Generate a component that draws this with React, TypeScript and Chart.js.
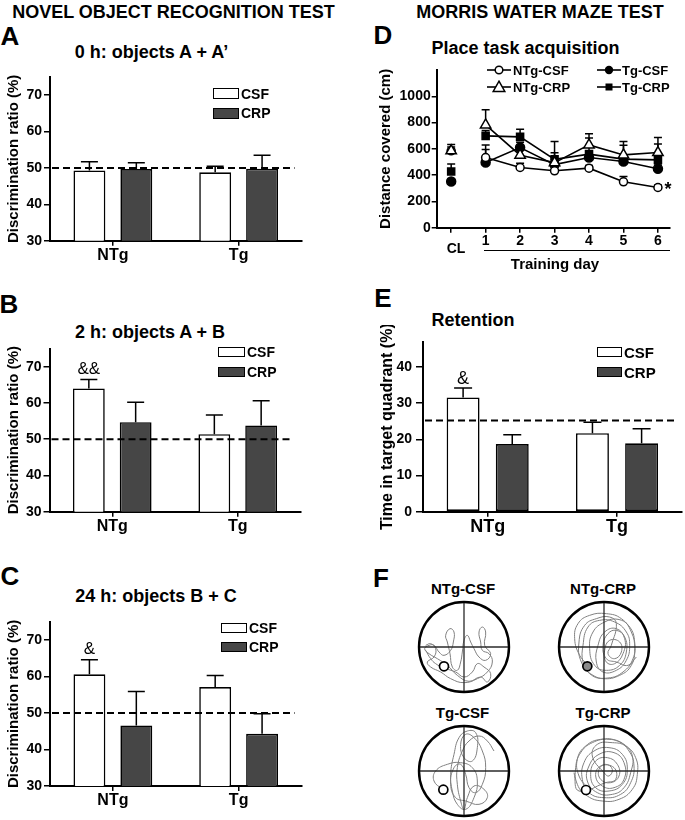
import React, { useEffect, useRef } from 'react';
import { Chart, registerables } from 'chart.js';

Chart.register(...registerables);

const FONT = "'Liberation Sans', Arial, Helvetica, sans-serif";
Chart.defaults.font.family = FONT;
Chart.defaults.color = '#000';

// ---------------- Novel object recognition (A, B, C) ----------------
const groups = ['NTg', 'Tg'];
const seriesNames = ['CSF', 'CRP'];
const norTicks = [30, 40, 50, 60, 70];
const norChance = 50;

const aCSF = [49.3, 48.8];
const aCSFSem = [2.4, 1.7];
const aCRP = [49.7, 49.8];
const aCRPSem = [1.7, 3.7];

const bCSF = [64.0, 51.4];
const bCSFSem = [2.5, 5.3];
const bCRP = [54.7, 53.8];
const bCRPSem = [5.5, 6.8];
const bMarks = ['&&', ''];

const cCSF = [60.6, 57.1];
const cCSFSem = [4.0, 3.2];
const cCRP = [46.6, 44.3];
const cCRPSem = [9.3, 5.5];
const cMarks = ['&', ''];

// ---------------- Morris water maze (D, E) ----------------
const dayLabels = ['CL', '1', '2', '3', '4', '5', '6'];
const dayIndex = [0, 1, 2, 3, 4, 5, 6];
const distTicks = [0, 200, 400, 600, 800, 1000];

const ntgCsfDist = [585, 534, 458, 433, 453, 349, 306];
const ntgCsfSem = [30, 96, 32, 25, 20, 40, 19];
const ntgCsfMarks = ['', '', '', '', '', '', '*'];
const ntgCrpDist = [585, 782, 552, 495, 630, 554, 572];
const ntgCrpSem = [48, 116, 48, 160, 84, 101, 114];
const tgCsfDist = [351, 496, 610, 480, 534, 504, 448];
const tgCsfSem = [20, 99, 40, 40, 40, 30, 30];
const tgCrpDist = [427, 699, 691, 520, 560, 522, 516];
const tgCrpSem = [57, 41, 58, 50, 123, 106, 120];

const eTicks = [0, 10, 20, 30, 40];
const eCSF = [31.6, 21.7];
const eCSFSem = [2.6, 3.0];
const eCRP = [18.7, 18.9];
const eCRPSem = [2.6, 4.0];
const eMarks = ['&', ''];
const eChance = 25.2;

// ---------------- Swim traces (F), arena units 0..270, centre 135 ----------------
const ARENA = 270;
const traceNtgCsf: [number, number][] = [
  [20, 130], [35, 125], [50, 140], [45, 165], [25, 180], [35, 195], [65, 210], [95, 230], [135, 242], [175, 230],
  [205, 210], [220, 180], [210, 155], [190, 145], [185, 120], [180, 90], [190, 75], [200, 90], [197, 130], [215, 155],
  [200, 175], [180, 165], [165, 140], [155, 120], [145, 100], [135, 115], [130, 150], [125, 180], [115, 205], [100, 195],
  [93, 155], [85, 120], [80, 100], [93, 80], [105, 90], [103, 120], [95, 145], [75, 160], [60, 150], [45, 130],
  [30, 130], [17, 140], [30, 155], [55, 170], [85, 190], [115, 220], [150, 238], [185, 225], [205, 240], [215, 215],
  [195, 195], [175, 185], [160, 210], [135, 225], [110, 210], [75, 198], [50, 185], [35, 170], [20, 145],
];
const traceNtgCrp: [number, number][] = [
  [87, 190], [62, 160], [47, 110], [57, 65], [92, 40], [142, 35], [187, 50], [217, 90], [227, 140], [217, 190],
  [182, 220], [132, 230], [92, 215], [72, 180], [72, 130], [87, 75], [122, 55], [167, 60], [202, 90], [212, 130],
  [202, 175], [172, 205], [132, 210], [112, 180], [117, 130], [137, 90], [172, 80], [197, 110], [192, 155], [167, 185],
  [142, 180], [137, 145], [152, 115], [182, 120], [187, 150], [167, 170], [147, 155], [157, 130], [172, 65], [152, 45],
  [112, 50], [77, 70], [60, 120], [67, 180], [102, 220], [147, 228], [192, 210], [222, 170], [227, 120], [212, 75],
  [177, 52], [137, 60], [102, 90], [92, 140], [107, 190], [142, 205], [182, 190], [202, 150], [197, 105], [172, 85],
  [147, 95], [132, 130], [142, 170], [172, 180], [207, 190], [232, 165],
];
const traceTgCsf: [number, number][] = [
  [70, 190], [45, 165], [50, 135], [85, 115], [125, 110], [160, 125], [175, 165], [165, 215], [140, 250], [115, 235],
  [100, 195], [95, 145], [105, 85], [120, 35], [145, 15], [170, 20], [175, 65], [160, 105], [135, 95], [125, 55],
  [140, 25], [165, 35], [190, 75], [200, 125], [190, 175], [170, 200], [150, 185], [140, 145], [125, 115], [105, 125],
  [95, 175], [110, 215], [140, 225], [180, 235], [205, 215], [195, 190], [165, 180], [145, 215], [135, 250], [125, 225],
  [115, 175], [115, 125], [130, 75], [150, 45], [180, 30], [205, 45], [225, 75],
];
const traceTgCrp: [number, number][] = [
  [85, 185], [60, 150], [55, 100], [80, 60], [125, 40], [175, 45], [210, 75], [225, 120], [215, 170], [185, 205],
  [135, 215], [90, 200], [70, 160], [75, 110], [105, 75], [150, 65], [190, 85], [205, 130], [190, 175], [150, 195],
  [110, 185], [95, 145], [110, 105], [145, 95], [175, 115], [180, 150], [155, 170], [125, 160], [120, 130], [140, 115],
  [160, 130], [150, 150], [135, 140], [100, 90], [115, 55], [160, 50], [200, 60], [230, 95], [235, 145], [220, 190],
  [180, 220], [130, 225], [85, 210], [55, 175], [50, 125], [65, 80], [100, 50], [150, 40], [195, 55], [220, 90],
  [215, 140], [195, 185], [160, 205], [115, 200], [85, 165], [90, 120], [120, 85], [165, 80], [195, 110], [195, 160],
  [165, 185], [130, 180], [110, 150], [125, 120], [165, 125], [170, 160], [140, 170], [60, 195], [45, 140],
];
const platNtgCsf: [number, number] = [75, 193];
const platNtgCrp: [number, number] = [85, 193];
const platTgCsf: [number, number] = [73, 191];
const platTgCrp: [number, number] = [81, 192];
const arenaNames = ['NTg-CSF', 'NTg-CRP', 'Tg-CSF', 'Tg-CRP'];

// ---------------- helpers ----------------
const DARK = '#464646';
type Rect = { x: number; y: number; w: number; h: number };
type Area = { l: number; r: number; t: number; b: number };

function frame(rect: Rect, area: Area) {
  return {
    padding: { left: 0, top: area.t - rect.y, right: rect.x + rect.w - area.r, bottom: 0 },
    yWidth: area.l - rect.x,
    xHeight: rect.y + rect.h - area.b,
  };
}

const overlay = {
  id: 'overlay',
  beforeDatasetsDraw(chart: any, _args: any, o: any) {
    const ctx = chart.ctx;
    const ys = chart.scales.y;
    chart.data.datasets.forEach((ds: any, i: number) => {
      if (!ds.sem) return;
      const meta = chart.getDatasetMeta(i);
      meta.data.forEach((el: any, j: number) => {
        const raw = ds.data[j];
        const v = typeof raw === 'number' ? raw : raw && raw.y;
        if (v == null) return;
        const top = ys.getPixelForValue(v + ds.sem[j]);
        ctx.save();
        ctx.strokeStyle = '#000';
        ctx.lineWidth = o.errW || 1.5;
        ctx.beginPath();
        ctx.moveTo(el.x, el.y);
        ctx.lineTo(el.x, top);
        ctx.moveTo(el.x - o.capW / 2, top);
        ctx.lineTo(el.x + o.capW / 2, top);
        ctx.stroke();
        ctx.restore();
      });
    });
  },
  afterDatasetsDraw(chart: any, _args: any, o: any) {
    const ctx = chart.ctx;
    const ys = chart.scales.y;
    const ca = chart.chartArea;
    if (o.chance != null) {
      const y = ys.getPixelForValue(o.chance);
      ctx.save();
      ctx.strokeStyle = '#000';
      ctx.lineWidth = 2;
      ctx.setLineDash([7, 4]);
      ctx.beginPath();
      ctx.moveTo(ca.left + 2, y);
      ctx.lineTo(ca.right - (o.inset || 0), y);
      ctx.stroke();
      ctx.restore();
    }
    chart.data.datasets.forEach((ds: any, i: number) => {
      if (!ds.marks) return;
      const meta = chart.getDatasetMeta(i);
      meta.data.forEach((el: any, j: number) => {
        const text = ds.marks[j];
        if (!text) return;
        const raw = ds.data[j];
        const v = typeof raw === 'number' ? raw : raw.y;
        ctx.save();
        ctx.fillStyle = '#000';
        ctx.font = o.markFont;
        ctx.textAlign = 'center';
        ctx.textBaseline = 'middle';
        if (o.markSide === 'right') {
          ctx.fillText(text, el.x + o.markDx, el.y + o.markDy);
        } else {
          const top = ys.getPixelForValue(v + ds.sem[j]);
          ctx.fillText(text, el.x, top - o.markGap);
        }
        ctx.restore();
      });
    });
  },
};

function axisBase(tickLength: number) {
  return {
    grid: { drawOnChartArea: false, tickLength, color: '#000', lineWidth: 1.5 },
    border: { display: true, color: '#000', width: 2 },
  };
}

function barConfig(p: any) {
  const f = frame(p.rect, p.area);
  return {
    type: 'bar',
    data: {
      labels: groups,
      datasets: [
        {
          label: seriesNames[0], data: p.csf, sem: p.csfSem, marks: p.marks,
          backgroundColor: '#fff', borderColor: '#000', borderWidth: 1.6, borderSkipped: false,
          categoryPercentage: p.cat, barPercentage: p.bar,
        },
        {
          label: seriesNames[1], data: p.crp, sem: p.crpSem,
          backgroundColor: DARK, borderColor: '#000', borderWidth: 1.6, borderSkipped: false,
          categoryPercentage: p.cat, barPercentage: p.bar,
        },
      ],
    },
    options: {
      responsive: false,
      animation: false,
      events: [],
      layout: { padding: f.padding, autoPadding: false },
      plugins: {
        legend: { display: false },
        tooltip: { enabled: false },
        overlay: { chance: p.chance, capW: p.capW, inset: p.inset, markFont: `normal ${p.markSize}px ${FONT}`, markGap: p.markGap },
      },
      scales: {
        x: {
          ...axisBase(5),
          grid: { ...axisBase(5).grid, offset: false },
          ticks: { color: '#000', font: { size: p.xFont, weight: 'bold' }, padding: 0 },
          afterFit: (s: any) => { s.height = f.xHeight; },
        },
        y: {
          ...axisBase(p.yTick),
          min: p.yTicks[0],
          max: p.yMax,
          afterBuildTicks: (s: any) => { s.ticks = p.yTicks.map((v: number) => ({ value: v })); },
          ticks: { color: '#000', font: { size: 14, weight: 'bold' }, padding: p.yPad, callback: (v: any) => String(v) },
          title: {
            display: true, text: p.yTitle, color: '#000',
            font: { size: p.yTitleSize, weight: 'bold' },
            padding: { top: p.yTitleX - p.rect.x - p.yTitleSize * 0.6, bottom: 0 },
          },
          afterFit: (s: any) => { s.width = f.yWidth; },
        },
      },
    },
    plugins: [overlay],
  };
}

// first listed is drawn on top
const mwmSeries = [
  { label: 'NTg-CSF', data: ntgCsfDist, sem: ntgCsfSem, marks: ntgCsfMarks, style: 'circle', radius: 4, fill: '#fff', order: 2 },
  { label: 'NTg-CRP', data: ntgCrpDist, sem: ntgCrpSem, marks: null, style: 'triangle', radius: 6, fill: '#fff', order: 1 },
  { label: 'Tg-CSF', data: tgCsfDist, sem: tgCsfSem, marks: null, style: 'circle', radius: 4.5, fill: '#000', order: 3 },
  { label: 'Tg-CRP', data: tgCrpDist, sem: tgCrpSem, marks: null, style: 'rect', radius: 5, fill: '#000', order: 4 },
];

const rectA: Rect = { x: 0, y: 62, w: 320, h: 210 };
const areaA: Area = { l: 50, r: 301.5, t: 77, b: 240.7 };
const rectB: Rect = { x: 0, y: 333, w: 320, h: 210 };
const areaB: Area = { l: 49.5, r: 300.5, t: 348.6, b: 511.7 };
const rectC: Rect = { x: 0, y: 606, w: 320, h: 212 };
const areaC: Area = { l: 50, r: 301.5, t: 621.8, b: 786 };
const rectD: Rect = { x: 340, y: 55, w: 345, h: 195 };
const areaD: Area = { l: 436.7, r: 670, t: 70, b: 227.7 };
const rectE: Rect = { x: 340, y: 325, w: 345, h: 215 };
const areaE: Area = { l: 423, r: 681.7, t: 341.7, b: 511.7 };

function lineConfig() {
  const f = frame(rectD, areaD);
  return {
    type: 'line',
    data: {
      datasets: mwmSeries.map((s) => ({
        label: s.label,
        order: s.order,
        data: dayIndex.map((d, i) => ({ x: d, y: s.data[i] })),
        sem: s.sem,
        marks: s.marks,
        borderColor: '#000',
        borderWidth: 1.6,
        pointStyle: s.style,
        pointRadius: s.radius,
        pointBackgroundColor: s.fill,
        pointBorderColor: '#000',
        pointBorderWidth: 1.5,
        tension: 0,
        segment: { borderColor: (c: any) => (c.p0DataIndex === 0 ? 'rgba(0,0,0,0)' : '#000') },
      })),
    },
    options: {
      responsive: false,
      animation: false,
      events: [],
      layout: { padding: f.padding, autoPadding: false },
      plugins: {
        legend: { display: false },
        tooltip: { enabled: false },
        overlay: { capW: 8, markFont: `bold 18px ${FONT}`, markSide: 'right', markDx: 10, markDy: 3 },
      },
      scales: {
        x: {
          type: 'linear',
          ...axisBase(5),
          min: -0.42,
          max: 6.35,
          afterBuildTicks: (s: any) => { s.ticks = dayIndex.map((v) => ({ value: v })); },
          ticks: { color: '#000', font: { size: 14, weight: 'bold' }, padding: 0, callback: (_v: any, i: number) => (i === 0 ? '' : dayLabels[i]) },
          afterFit: (s: any) => { s.height = f.xHeight; },
        },
        y: {
          ...axisBase(5),
          min: 0,
          max: 1200,
          afterBuildTicks: (s: any) => { s.ticks = distTicks.map((v) => ({ value: v })); },
          ticks: { color: '#000', font: { size: 14, weight: 'bold' }, padding: 1, callback: (v: any) => String(v) },
          title: {
            display: true, text: 'Distance covered (cm)', color: '#000',
            font: { size: 15, weight: 'bold' },
            padding: { top: 385.7 - rectD.x - 9, bottom: 0 },
          },
          afterFit: (s: any) => { s.width = f.yWidth; },
        },
      },
    },
    plugins: [overlay],
  };
}

function arenaConfig(trace: [number, number][], plat: [number, number], platFill: string) {
  const c = ARENA / 2;
  const hiddenAxis = {
    type: 'linear', min: 0, max: ARENA, display: true,
    grid: { display: false, drawTicks: false }, border: { display: false }, ticks: { display: false },
  };
  return {
    type: 'scatter',
    data: {
      datasets: [
        { data: [{ x: plat[0], y: plat[1] }], pointRadius: 4.5, pointBorderWidth: 1.7, pointBorderColor: '#000', pointBackgroundColor: platFill, clip: false },
        { data: [{ x: c, y: c }], pointRadius: 45, pointBorderWidth: 2.4, pointBorderColor: '#000', pointBackgroundColor: 'rgba(0,0,0,0)', clip: false },
        { data: [{ x: 0, y: c }, { x: ARENA, y: c }], showLine: true, pointRadius: 0, borderColor: '#2a2a2a', borderWidth: 1.3 },
        { data: [{ x: c, y: 0 }, { x: c, y: ARENA }], showLine: true, pointRadius: 0, borderColor: '#2a2a2a', borderWidth: 1.3 },
        { data: trace.map(([x, y]) => ({ x, y })), showLine: true, pointRadius: 0, borderColor: '#808080', borderWidth: 1, tension: 0.45 },
      ],
    },
    options: {
      responsive: false,
      animation: false,
      events: [],
      layout: { padding: 5, autoPadding: false },
      plugins: { legend: { display: false }, tooltip: { enabled: false } },
      scales: {
        x: { ...hiddenAxis },
        y: { ...hiddenAxis, reverse: true },
      },
    },
  };
}

function ChartBox({ rect, build }: { rect: Rect; build: () => any }) {
  const ref = useRef<HTMLCanvasElement>(null);
  useEffect(() => {
    const chart = new Chart(ref.current as HTMLCanvasElement, build());
    return () => chart.destroy();
  }, []);
  return (
    <canvas
      ref={ref}
      width={rect.w}
      height={rect.h}
      style={{ position: 'absolute', left: rect.x, top: rect.y, width: rect.w, height: rect.h }}
    />
  );
}

function T({ x, y, size, weight = 'bold', align = 'center', children }: any) {
  return (
    <div
      style={{
        position: 'absolute', left: x, top: y,
        transform: align === 'center' ? 'translate(-50%, -50%)' : 'translate(0, -50%)',
        font: `${weight} ${size}px ${FONT}`, lineHeight: 1, whiteSpace: 'nowrap', color: '#000',
      }}
    >
      {children}
    </div>
  );
}

function BarLegend({ x, y1, y2, w, h, tx, size }: any) {
  const box = (y: number, bg: string) => (
    <div style={{ position: 'absolute', left: x, top: y - h / 2, width: w, height: h, boxSizing: 'border-box', border: '1.6px solid #000', background: bg }} />
  );
  return (
    <>
      {box(y1, '#fff')}
      {box(y2, DARK)}
      <T x={tx} y={y1} size={size} align="left">{seriesNames[0]}</T>
      <T x={tx} y={y2} size={size} align="left">{seriesNames[1]}</T>
    </>
  );
}

function LineSym({ x, y, kind }: any) {
  let marker: any = null;
  if (kind === 'openCircle') marker = <circle cx={12} cy={7} r={3.8} fill="#fff" stroke="#000" strokeWidth={1.5} />;
  if (kind === 'dot') marker = <circle cx={12} cy={7} r={4.2} fill="#000" />;
  if (kind === 'tri') marker = <polygon points="12,1.2 17.8,11.4 6.2,11.4" fill="#fff" stroke="#000" strokeWidth={1.5} />;
  if (kind === 'square') marker = <rect x={8.5} y={3.5} width={7} height={7} fill="#000" />;
  return (
    <svg width={24} height={14} style={{ position: 'absolute', left: x, top: y - 7 }}>
      <line x1={0} y1={7} x2={24} y2={7} stroke="#000" strokeWidth={1.6} />
      {marker}
    </svg>
  );
}

const arenaSpecs = [
  { cx: 464, cy: 647, trace: traceNtgCsf, plat: platNtgCsf, fill: '#fff' },
  { cx: 604, cy: 647, trace: traceNtgCrp, plat: platNtgCrp, fill: '#8a8a8a' },
  { cx: 463.5, cy: 771, trace: traceTgCsf, plat: platTgCsf, fill: '#fff' },
  { cx: 604, cy: 771, trace: traceTgCrp, plat: platTgCrp, fill: '#fff' },
];

export default function App() {
  const barCommon = { cat: 0.746, bar: 0.68, capW: 17, yTitleSize: 15, yTitleX: 14.2, yTick: 6, yPad: 2, xFont: 16, yMax: 75, yTicks: norTicks, chance: norChance, inset: 7, markSize: 17, markGap: 10, yTitle: 'Discrimination ratio (%)' };
  return (
    <div style={{ position: 'fixed', left: 0, top: 0, width: 685, height: 820, background: '#fff', overflow: 'hidden' }}>
      <T x={173.5} y={12} size={18}>NOVEL OBJECT RECOGNITION TEST</T>
      <T x={540} y={12} size={18}>MORRIS WATER MAZE TEST</T>

      <T x={10} y={36} size={26}>A</T>
      <T x={9} y={304} size={26}>B</T>
      <T x={10} y={576} size={26}>C</T>
      <T x={383} y={35} size={26}>D</T>
      <T x={383} y={298} size={26}>E</T>
      <T x={381} y={578} size={26}>F</T>

      <T x={151.5} y={52} size={18}>0 h: objects A + A’</T>
      <T x={150} y={332} size={18}>2 h: objects A + B</T>
      <T x={156} y={596} size={18}>24 h: objects B + C</T>
      <T x={525.5} y={48} size={18}>Place task acquisition</T>
      <T x={473} y={320} size={18}>Retention</T>

      <ChartBox rect={rectA} build={() => barConfig({ ...barCommon, rect: rectA, area: areaA, csf: aCSF, csfSem: aCSFSem, crp: aCRP, crpSem: aCRPSem, marks: null })} />
      <ChartBox rect={rectB} build={() => barConfig({ ...barCommon, rect: rectB, area: areaB, csf: bCSF, csfSem: bCSFSem, crp: bCRP, crpSem: bCRPSem, marks: bMarks })} />
      <ChartBox rect={rectC} build={() => barConfig({ ...barCommon, rect: rectC, area: areaC, csf: cCSF, csfSem: cCSFSem, crp: cCRP, crpSem: cCRPSem, marks: cMarks })} />
      <ChartBox rect={rectD} build={lineConfig} />
      <ChartBox
        rect={rectE}
        build={() => barConfig({
          ...barCommon, rect: rectE, area: areaE, cat: 0.76, bar: 0.67, capW: 18, yTitleSize: 16, yTitleX: 387.5, yTick: 7, yPad: 4, xFont: 18,
          yMax: 47, yTicks: eTicks, chance: eChance, inset: 4, markSize: 18, markGap: 9, yTitle: 'Time in target quadrant (%)',
          csf: eCSF, csfSem: eCSFSem, crp: eCRP, crpSem: eCRPSem, marks: eMarks,
        })}
      />

      <BarLegend x={213} y1={93.5} y2={113} w={26} h={11} tx={241} size={14} />
      <BarLegend x={218} y1={352} y2={371.5} w={27} h={10} tx={247} size={14} />
      <BarLegend x={221} y1={627.5} y2={646.5} w={26} h={10} tx={249} size={14} />
      <BarLegend x={597} y1={352} y2={372} w={25} h={10} tx={624} size={15} />

      <LineSym x={487} y={70} kind="openCircle" />
      <T x={513} y={70} size={13} align="left">{mwmSeries[0].label}</T>
      <LineSym x={487} y={87} kind="tri" />
      <T x={513} y={87} size={13} align="left">{mwmSeries[1].label}</T>
      <LineSym x={597} y={70} kind="dot" />
      <T x={622} y={70} size={13} align="left">{mwmSeries[2].label}</T>
      <LineSym x={597} y={87} kind="square" />
      <T x={622} y={87} size={13} align="left">{mwmSeries[3].label}</T>

      <T x={456} y={248} size={14}>{dayLabels[0]}</T>
      <div style={{ position: 'absolute', left: 484, top: 249.5, width: 186, height: 1.6, background: '#000' }} />
      <T x={555} y={263} size={15}>Training day</T>

      {arenaSpecs.map((a, i) => (
        <React.Fragment key={i}>
          <T x={a.cx - 1} y={a.cy - 59} size={15}>{arenaNames[i]}</T>
          <ChartBox rect={{ x: a.cx - 50, y: a.cy - 50, w: 100, h: 100 }} build={() => arenaConfig(a.trace, a.plat, a.fill)} />
        </React.Fragment>
      ))}
    </div>
  );
}
